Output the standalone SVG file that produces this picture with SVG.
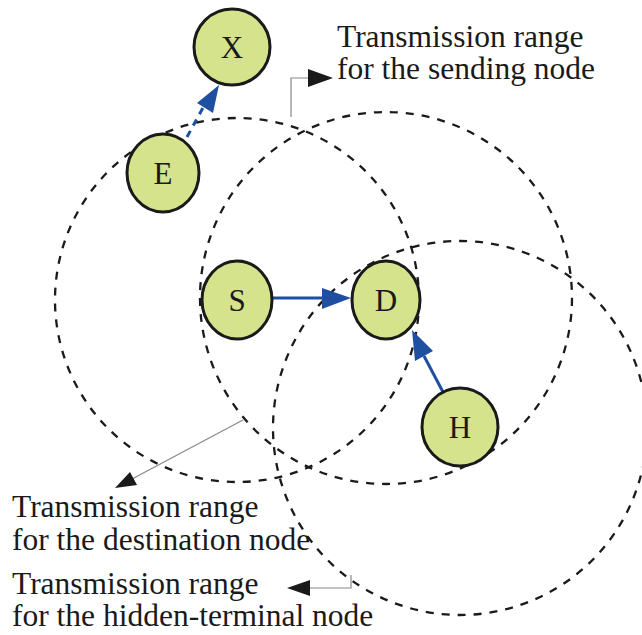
<svg xmlns="http://www.w3.org/2000/svg" width="642" height="635" viewBox="0 0 642 635">
<defs>
<style>
.range{fill:none;stroke:#1a1a1a;stroke-width:2.3;stroke-dasharray:8 8}
.node ellipse{fill:#d4e38c;stroke:#1a1a1a;stroke-width:3}
.node text{font-family:"Liberation Serif","Times New Roman",serif;font-size:31px;fill:#1a1a1a;text-anchor:middle}
.lbl{font-family:"Liberation Serif","Times New Roman",serif;font-size:31.5px;fill:#1a1a1a}
.lead{fill:none;stroke:#888;stroke-width:1.2}
.blue{fill:none;stroke:#1f4fa0;stroke-width:3}
</style>
</defs>
<g id="ranges">
<circle class="range" cx="237" cy="300" r="182"/>
<circle class="range" cx="386" cy="298" r="186"/>
<circle class="range" cx="460" cy="428" r="187"/>
</g>
<g id="connectors">
<line class="blue" x1="187" y1="137" x2="205" y2="104" stroke-dasharray="7 6"/>
<path d="M219,85 L197,103 L213,113 Z" fill="#1f4fa0"/>
<line class="blue" x1="273" y1="298" x2="325" y2="298"/>
<path d="M351,298 L322,288 L322,309 Z" fill="#1f4fa0"/>
<line class="blue" x1="443" y1="392" x2="424" y2="356"/>
<path d="M412,330 L415,361 L433,351 Z" fill="#1f4fa0"/>
<polyline class="lead" points="291,117 291,78 310,78"/>
<path d="M333,78 L308,69 L308,87 Z" fill="#1a1a1a"/>
<line class="lead" x1="243" y1="420" x2="132" y2="479"/>
<path d="M115,488 L130,472 L137,485 Z" fill="#1a1a1a"/>
<polyline class="lead" points="351,575 351,588 308,588"/>
<path d="M287,588 L310,580 L310,596 Z" fill="#1a1a1a"/>
</g>
<g id="node-X" class="node"><ellipse cx="232" cy="47" rx="38" ry="38"/><text x="232" y="58">X</text></g>
<g id="node-E" class="node"><ellipse cx="163" cy="173" rx="36" ry="39"/><text x="163" y="184">E</text></g>
<g id="node-S" class="node"><ellipse cx="237" cy="300" rx="35" ry="39"/><text x="237" y="311">S</text></g>
<g id="node-D" class="node"><ellipse cx="386" cy="300" rx="34" ry="39"/><text x="386" y="311">D</text></g>
<g id="node-H" class="node"><ellipse cx="460" cy="427" rx="38" ry="39"/><text x="460" y="438">H</text></g>
<g id="labels">
<text class="lbl" x="337" y="47">Transmission range</text>
<text class="lbl" x="337" y="79">for the sending node</text>
<text class="lbl" x="12" y="517">Transmission range</text>
<text class="lbl" x="12" y="550">for the destination node</text>
<text class="lbl" x="12" y="594">Transmission range</text>
<text class="lbl" x="12" y="626">for the hidden-terminal node</text>
</g>
</svg>
